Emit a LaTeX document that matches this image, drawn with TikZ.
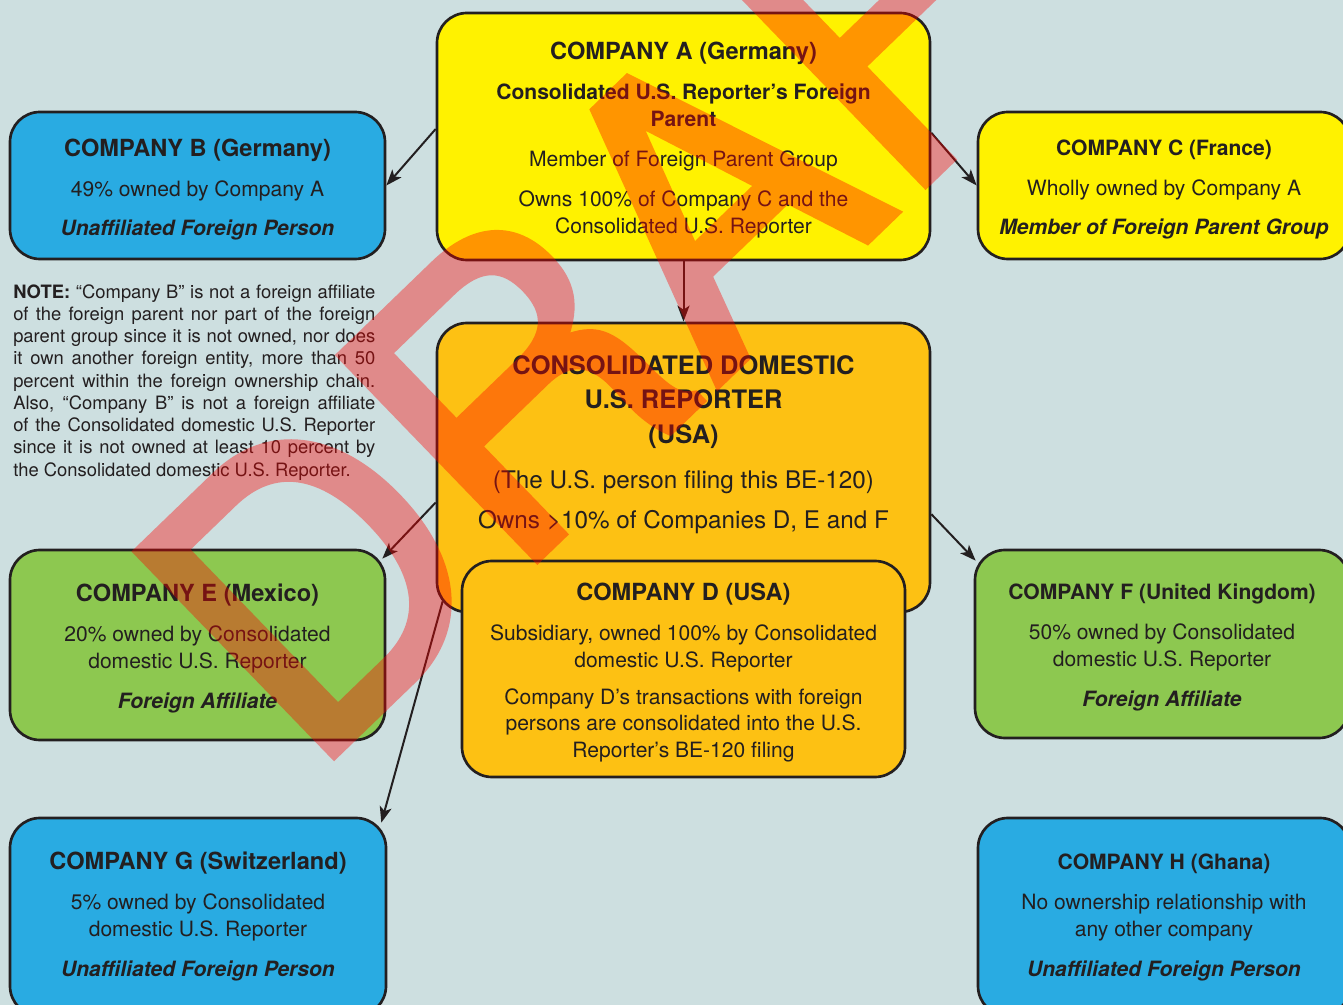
\documentclass[tikz,border=0pt]{standalone}
\usepackage{fontspec}
\setmainfont{TeX Gyre Heros}
\newfontfamily\wmfont[FakeBold=2]{TeX Gyre Heros}
\usetikzlibrary{arrows.meta,calc}
\definecolor{bgc}{HTML}{CDDFE0}
\definecolor{bluec}{HTML}{29ABE2}
\definecolor{yellowc}{HTML}{FFF200}
\definecolor{amberc}{HTML}{FDC113}
\definecolor{greenc}{HTML}{8DC850}
\definecolor{inkc}{HTML}{231F20}
\newcommand\tBig{\fontsize{17.7}{20.25}\selectfont\bfseries\rule{0pt}{\dimexpr0.75em+5.5pt\relax}}
\newcommand\tSm{\fontsize{15.8}{20.25}\selectfont\bfseries\rule{0pt}{\dimexpr0.75em+5.5pt\relax}}
\newcommand\bodyf{\fontsize{15.8}{20.25}\selectfont}
\newcommand\bit{\bfseries\itshape}
\tikzset{
  box/.style={draw=inkc, line width=2pt, rounded corners=22.5pt, align=center,
    inner sep=0pt, text=inkc, font=\bodyf},
  arr/.style={draw=inkc, line width=1.5pt, -{Stealth[length=12pt,width=9pt,inset=3pt]}},
}
\begin{document}
\begin{tikzpicture}[x=0.75pt,y=-0.75pt]
\useasboundingbox (0,0) rectangle (1343,1005);
\fill[bgc] (0,0) rectangle (1343,1005);

% Company A
\node[box, fill=yellowc, minimum width=369.75pt, minimum height=185.25pt] (A) at (683.5,136.5)
{{\tBig COMPANY A (Germany)}\\[9.75pt]
 {\bfseries Consolidated U.S. Reporter’s Foreign}\\
 {\bfseries Parent}\\[9.75pt]
 Member of Foreign Parent Group\\[9.75pt]
 Owns 100\% of Company C and the\\
 Consolidated U.S. Reporter};

% Company B
\node[box, fill=bluec, minimum width=281.25pt, minimum height=110.25pt] (B) at (197.5,185.5)
{{\tBig COMPANY B (Germany)}\\[9.75pt]
 49\% owned by Company A\\[9pt]
 {\bit Unaffiliated Foreign Person}};

% Company C
\node[box, fill=yellowc, minimum width=279pt, minimum height=110.25pt] (C) at (1164,185.5)
{{\tSm COMPANY C (France)}\\[9.75pt]
 Wholly owned by Company A\\[9pt]
 {\bit Member of Foreign Parent Group}};

% Note
\node[anchor=north west, inner sep=0pt, text=inkc, align=left,
      font=\fontsize{13.8}{16.7}\selectfont] (note) at (13,284)
{\makebox[271.5pt][s]{\textbf{NOTE:} “Company B” is not a foreign affiliate}\\
 \makebox[271.5pt][s]{of the foreign parent nor part of the foreign}\\
 \makebox[271.5pt][s]{parent group since it is not owned, nor does}\\
 \makebox[271.5pt][s]{it own another foreign entity, more than 50}\\
 \makebox[271.5pt][s]{percent within the foreign ownership chain.}\\
 \makebox[271.5pt][s]{Also, “Company B” is not a foreign affiliate}\\
 \makebox[271.5pt][s]{of the Consolidated domestic U.S. Reporter}\\
 \makebox[271.5pt][s]{since it is not owned at least 10 percent by}\\
 the Consolidated domestic U.S. Reporter.};

% Consolidated domestic U.S. reporter
\node[box, fill=amberc, minimum width=369.75pt, minimum height=216.75pt] (cons) at (683.5,467.5) {};
\node[anchor=north, inner sep=0pt, align=center, text=inkc,
      font=\fontsize{18.2}{25.9}\selectfont] (consText) at (683.5,355)
{{\fontsize{19.1}{25.9}\selectfont\bfseries CONSOLIDATED DOMESTIC}\\
 {\fontsize{19.1}{25.9}\selectfont\bfseries U.S. REPORTER}\\
 {\fontsize{19.1}{25.9}\selectfont\bfseries (USA)}\\[7.85pt]
 (The U.S. person filing this BE-120)\\[4.1pt]
 Owns >10\% of Companies D, E and F};

% Company D
\node[box, fill=amberc, minimum width=332.25pt, minimum height=162pt,
      font=\fontsize{15.8}{20}\selectfont] (D) at (683.5,669)
{{\tBig COMPANY D (USA)}\\[10pt]
 Subsidiary, owned 100\% by Consolidated\\
 domestic U.S. Reporter\\[7.5pt]
 Company D’s transactions with foreign\\
 persons are consolidated into the U.S.\\
 Reporter’s BE-120 filing};

% Company E
\node[box, fill=greenc, minimum width=281.25pt, minimum height=142.5pt] (E) at (197.5,645)
{{\tBig COMPANY E (Mexico)}\\[9.75pt]
 20\% owned by Consolidated\\
 domestic U.S. Reporter\\[9.75pt]
 {\bit Foreign Affiliate}};

% Company F
\node[box, fill=greenc, minimum width=280.5pt, minimum height=141pt] (F) at (1162,644)
{{\tSm COMPANY F (United Kingdom)}\\[9.75pt]
 50\% owned by Consolidated\\
 domestic U.S. Reporter\\[9.75pt]
 {\bit Foreign Affiliate}};

% Company G
\node[box, fill=bluec, minimum width=282pt, minimum height=148.5pt] (G) at (198,917)
{{\fontsize{17.7}{20.25}\selectfont\bfseries COMPANY G (Switzerland)}\\[9.75pt]
 5\% owned by Consolidated\\
 domestic U.S. Reporter\\[9.75pt]
 {\bit Unaffiliated Foreign Person}};

% Company H
\node[box, fill=bluec, minimum width=279pt, minimum height=148.5pt] (H) at (1164,917)
{{\fontsize{15.8}{20.25}\selectfont\bfseries COMPANY H (Ghana)}\\[9.75pt]
 No ownership relationship with\\
 any other company\\[9.75pt]
 {\bit Unaffiliated Foreign Person}};

% Connectors
\draw[arr] ($(A.north west)!0.47!(A.south west)$) -- (B.east);
\draw[arr] ($(A.north east)!0.485!(A.south east)$) -- (C.west);
\draw[arr] (A.south) -- (cons.north);
\draw[arr] ($(cons.north west)!0.62!(cons.south west)$) -- ($(E.north east)+(-4,10)$);
\draw[arr] ($(cons.south west)+(7,-12)$) -- ($(G.north east)+(-6,6)$);
\draw[arr] ($(cons.north east)!0.66!(cons.south east)$) -- ($(F.north west)+(2,12)$);

% Watermark
\begin{scope}[transparency group, opacity=0.38]
\node[anchor=base west, rotate=44, inner sep=0pt, text=red,
      font=\wmfont\fontsize{292}{292}\selectfont] (wm) at (309,780) {DRAFT};
\end{scope}
\end{tikzpicture}
\end{document}
